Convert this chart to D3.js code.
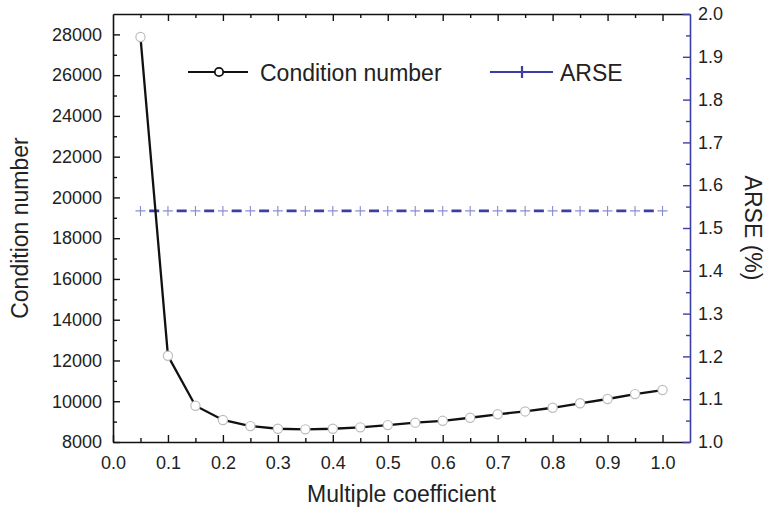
<!doctype html>
<html>
<head>
<meta charset="utf-8">
<style>
    body { margin: 0; background: #fff; }
    svg { display: block; font-family: "Liberation Sans", Arial, sans-serif; }
    .tick text { font-size: 18px; fill: #222; font-family: "Liberation Sans", Arial, sans-serif; }
</style>
<script src="https://d3js.org/d3.v7.min.js"></script>
</head>
<body>
<svg width="769" height="508"></svg>
<script>
// data
var coef = [0.05, 0.1, 0.15, 0.2, 0.25, 0.3, 0.35, 0.4, 0.45, 0.5,
            0.55, 0.6, 0.65, 0.7, 0.75, 0.8, 0.85, 0.9, 0.95, 1.0];
var condNumber = [27870, 12230, 9780, 9080, 8780, 8650, 8620, 8650, 8720, 8830,
                  8950, 9040, 9190, 9360, 9500, 9680, 9900, 10110, 10350, 10550];
var arse = [1.54, 1.54, 1.54, 1.54, 1.54, 1.54, 1.54, 1.54, 1.54, 1.54,
            1.54, 1.54, 1.54, 1.54, 1.54, 1.54, 1.54, 1.54, 1.54, 1.54];
var xTicks = [0, 0.1, 0.2, 0.3, 0.4, 0.5, 0.6, 0.7, 0.8, 0.9, 1.0];
var yTicks = d3.range(8000, 28001, 2000);
var y2Ticks = [1.0, 1.1, 1.2, 1.3, 1.4, 1.5, 1.6, 1.7, 1.8, 1.9, 2.0];

var blue = "#3b3fa3";
var svg = d3.select("svg");
var pLeft = 113, pRight = 690, pTop = 14, pBottom = 442;

var x = d3.scaleLinear().domain([0, 1.05]).range([pLeft, pRight]);
var y = d3.scaleLinear().domain([8000, 29000]).range([pBottom, pTop]);
var y2 = d3.scaleLinear().domain([1.0, 2.0]).range([pBottom, pTop]);

function styleAxis(g, color) {
    g.select(".domain").attr("stroke", color).attr("stroke-width", 1.6);
    g.selectAll(".tick line").attr("stroke", color).attr("stroke-width", 1.4);
}

// minor ticks
var xMinor = d3.range(0.05, 1.01, 0.1);
svg.append("g").attr("transform", "translate(0," + pBottom + ")")
   .call(d3.axisBottom(x).tickValues(xMinor).tickSize(-4).tickFormat(""))
   .call(function(g) { g.select(".domain").remove(); styleAxis(g, "#111"); });
svg.append("g").attr("transform", "translate(0," + pTop + ")")
   .call(d3.axisTop(x).tickValues(xMinor).tickSize(-4).tickFormat(""))
   .call(function(g) { g.select(".domain").remove(); styleAxis(g, "#111"); });
svg.append("g").attr("transform", "translate(" + pLeft + ",0)")
   .call(d3.axisLeft(y).tickValues(d3.range(9000, 28000, 2000)).tickSize(-4).tickFormat(""))
   .call(function(g) { g.select(".domain").remove(); styleAxis(g, "#111"); });
svg.append("g").attr("transform", "translate(" + pRight + ",0)")
   .call(d3.axisRight(y2).tickValues(d3.range(1.05, 2.0, 0.1)).tickSize(-4).tickFormat(""))
   .call(function(g) { g.select(".domain").remove(); styleAxis(g, blue); });

// major axes
svg.append("g").attr("transform", "translate(0," + pTop + ")")
   .call(d3.axisTop(x).tickValues(xTicks.slice(1)).tickSize(-7).tickSizeOuter(0).tickFormat(""))
   .call(function(g) { styleAxis(g, "#111"); });
svg.append("g").attr("transform", "translate(0," + pBottom + ")")
   .call(d3.axisBottom(x).tickValues(xTicks).tickSize(-7).tickSizeOuter(0).tickPadding(14)
         .tickFormat(d3.format(".1f")))
   .call(function(g) { styleAxis(g, "#111"); });
svg.append("g").attr("transform", "translate(" + pLeft + ",0)")
   .call(d3.axisLeft(y).tickValues(yTicks).tickSize(-7).tickSizeOuter(0).tickPadding(11)
         .tickFormat(d3.format("d")))
   .call(function(g) { styleAxis(g, "#111"); });
svg.append("g").attr("transform", "translate(" + pRight + ",0)")
   .call(d3.axisRight(y2).tickValues(y2Ticks).tickSize(-7).tickSizeOuter(0).tickPadding(8)
         .tickFormat(d3.format(".1f")))
   .call(function(g) { styleAxis(g, blue); });

// ARSE dashed line with plus markers
var step = x(0.1) - x(0.05);
var dash = 10;
svg.append("path")
   .datum(coef)
   .attr("fill", "none")
   .attr("stroke", blue)
   .attr("stroke-width", 2.6)
   .attr("stroke-dasharray", dash + "," + (step - dash))
   .attr("stroke-dashoffset", dash + (step - dash) / 2)
   .attr("d", d3.line().x(function(d) { return x(d); })
                       .y(function(d, i) { return y2(arse[i]); }));

svg.append("g").selectAll("path")
   .data(coef)
   .enter().append("path")
   .attr("d", function(d, i) {
       var cx = x(d), cy = y2(arse[i]);
       return "M" + (cx - 5) + "," + cy + "H" + (cx + 5) + "M" + cx + "," + (cy - 5) + "V" + (cy + 5);
   })
   .attr("stroke", "#8a8cd0")
   .attr("stroke-width", 1.1)
   .attr("fill", "none");

// condition number line
svg.append("path")
   .datum(coef)
   .attr("fill", "none")
   .attr("stroke", "#111")
   .attr("stroke-width", 2.3)
   .attr("d", d3.line().x(function(d) { return x(d); })
                       .y(function(d, i) { return y(condNumber[i]); }));

svg.append("g").selectAll("circle")
   .data(coef)
   .enter().append("circle")
   .attr("cx", function(d) { return x(d); })
   .attr("cy", function(d, i) { return y(condNumber[i]); })
   .attr("r", 4.6)
   .attr("fill", "#fff")
   .attr("stroke", "#bdbdbd")
   .attr("stroke-width", 1.2);

// legend
var lg = svg.append("g");
lg.append("line").attr("x1", 188).attr("x2", 248).attr("y1", 72).attr("y2", 72)
  .attr("stroke", "#111").attr("stroke-width", 2);
lg.append("circle").attr("cx", 219).attr("cy", 72).attr("r", 4.2)
  .attr("fill", "#fff").attr("stroke", "#111").attr("stroke-width", 1.8);
lg.append("text").attr("x", 260).attr("y", 81).attr("font-size", 23).attr("fill", "#222")
  .text("Condition number");
lg.append("line").attr("x1", 490).attr("x2", 553).attr("y1", 72).attr("y2", 72)
  .attr("stroke", blue).attr("stroke-width", 2);
lg.append("path").attr("d", "M516,72H528M522,66V78")
  .attr("stroke", blue).attr("stroke-width", 2.2);
lg.append("text").attr("x", 560).attr("y", 81).attr("font-size", 23).attr("fill", "#222")
  .text("ARSE");

// axis titles
svg.append("text")
   .attr("transform", "translate(28," + (pTop + pBottom) / 2 + ") rotate(-90)")
   .attr("text-anchor", "middle").attr("font-size", 23).attr("fill", "#222")
   .text("Condition number");
svg.append("text")
   .attr("x", (pLeft + pRight) / 2).attr("y", 502)
   .attr("text-anchor", "middle").attr("font-size", 23).attr("fill", "#222")
   .text("Multiple coefficient");
svg.append("text")
   .attr("transform", "translate(745," + (pTop + pBottom) / 2 + ") rotate(90)")
   .attr("text-anchor", "middle").attr("font-size", 23).attr("fill", "#222")
   .text("ARSE (%)");
</script>
</body>
</html>
